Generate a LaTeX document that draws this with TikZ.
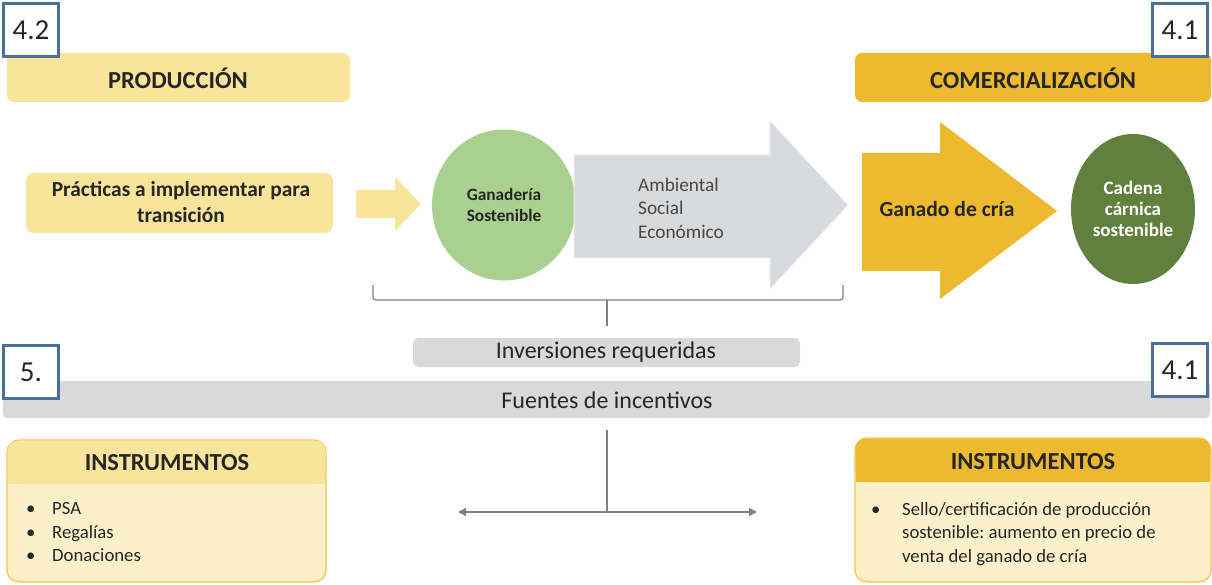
\documentclass[tikz,border=0pt]{standalone}
\usepackage{fontspec}
\setmainfont{Carlito}
\frenchspacing
\usetikzlibrary{arrows.meta,shapes.geometric}
\definecolor{lightyel}{HTML}{F8E59B}
\definecolor{paleyel}{HTML}{FCF0CA}
\definecolor{gold}{HTML}{EDB92E}
\definecolor{goldedge}{HTML}{F2C54A}
\definecolor{lgreen}{HTML}{A9D08E}
\definecolor{dgreen}{HTML}{62803D}
\definecolor{lgray}{HTML}{D9D9D9}
\definecolor{agray}{HTML}{D9DADC}
\definecolor{numblue}{HTML}{4A6F9A}
\definecolor{txt}{HTML}{262626}
\definecolor{linegray}{HTML}{808080}
\tikzset{
  numbox/.style={draw=numblue, line width=2.2pt, fill=white, minimum width=55pt, minimum height=53pt, inner sep=0pt, font=\fontsize{29}{31}\selectfont, text=txt},
  hdr/.style={font=\bfseries\fontsize{24.5}{28}\selectfont, text=txt},
  bul/.style={font=\fontsize{18.7}{23.5}\selectfont, text=txt, anchor=west, align=left, inner sep=0pt},
  conn/.style={draw=linegray, line width=1.3pt},
  circ/.style={ellipse, inner sep=0pt, align=center}
}
\begin{document}
\begin{tikzpicture}[x=1pt,y=-1pt]
\useasboundingbox (0,0) rectangle (1212,585);
% top bands
\fill[lightyel, rounded corners=7pt] (7,53) rectangle (350,102);
\node[hdr] (prod) at (178,78) {PRODUCCIÓN};
\fill[gold, rounded corners=7pt] (855,53) rectangle (1211,102);
\node[hdr] (comer) at (1033,78) {COMERCIALIZACIÓN};
\node[numbox] (n42) at (31,30) {4.2};
\node[numbox] (n41a) at (1180,30) {4.1};
% practicas
\fill[lightyel, rounded corners=8pt] (26,173) rectangle (333,233);
\node[font=\bfseries\fontsize{21.4}{26}\selectfont, text=txt, align=center] (prac) at (181,202) {Prácticas a implementar para\\transición};
% small arrow
\fill[lightyel] (356,190) -- (395,190) -- (395,177) -- (421,204) -- (395,231) -- (395,218) -- (356,218) -- cycle;
% green circle
\node[circ, fill=lgreen, minimum width=144pt, minimum height=151pt, font=\bfseries\fontsize{17.3}{21}\selectfont, text=txt] (gan) at (504,205) {Ganadería\\Sostenible};
% gray arrow
\fill[agray, draw=white!80!blue!30, line width=0.6pt] (574,155) -- (770,155) -- (770,121) -- (848,205) -- (770,289) -- (770,258) -- (574,258) -- cycle;
\node[font=\fontsize{19.3}{23.5}\selectfont, text=txt!85, align=left, anchor=west, inner sep=0pt] (amb) at (638,208) {Ambiental\\Social\\Económico};
% gold arrow
\fill[gold] (862,153) -- (940,153) -- (940,122) -- (1057,211) -- (940,299) -- (940,271) -- (862,271) -- cycle;
\node[font=\bfseries\fontsize{21.6}{24}\selectfont, text=txt] (cria) at (947,209) {Ganado de cría};
% dark green circle
\node[circ, fill=dgreen, minimum width=124pt, minimum height=150pt, font=\bfseries\fontsize{19}{21}\selectfont, text=white] (cadena) at (1133,209) {Cadena\\cárnica\\sostenible};
% brace
\coordinate (bl) at (373,285);
\coordinate (br) at (843,285);
\coordinate (bm) at (607,300);
\coordinate (bs) at (607,326);
\draw[conn, rounded corners=3pt] (bl) |- (bm) -| (br);
\draw[conn] (bm) -- (bs);
% inversiones
\fill[lgray, rounded corners=5pt] (413,338) rectangle (800,367);
\node[font=\fontsize{24}{26}\selectfont, text=txt] (inv) at (606,352) {Inversiones requeridas};
% fuentes
\fill[lgray, rounded corners=4pt] (3,381) rectangle (1210,418);
\node[font=\fontsize{24}{26}\selectfont, text=txt] (fue) at (607,400) {Fuentes de incentivos};
\node[numbox] (n5) at (31,372) {5.};
\node[numbox] (n41b) at (1180,370) {4.1};
% bottom connectors
\coordinate (vt) at (607,430);
\coordinate (vj) at (607,512);
\coordinate (al) at (458,512);
\coordinate (ar) at (757,512);
\draw[conn] (vt) -- (vj);
\draw[conn, -{Triangle[length=8pt,width=8pt]}] (vj) -- (al);
\draw[conn, -{Triangle[length=8pt,width=8pt]}] (vj) -- (ar);
% left instrumentos
\filldraw[fill=paleyel, draw=goldedge, line width=1.2pt, rounded corners=12pt] (7,440) rectangle (326,582);
\fill[lightyel, rounded corners=10pt] (7.6,440.6) rectangle (325.4,484);
\fill[lightyel] (7.6,470) rectangle (325.4,484);
\node[hdr] (insL) at (167,463) {INSTRUMENTOS};
\node[bul] (bL) at (26,532) {\makebox[26pt][l]{•}PSA\\\makebox[26pt][l]{•}Regalías\\\makebox[26pt][l]{•}Donaciones};
% right instrumentos
\filldraw[fill=paleyel, draw=goldedge, line width=1.2pt, rounded corners=12pt] (855,438) rectangle (1211,582);
\fill[gold, rounded corners=10pt] (855.6,438.6) rectangle (1210.4,482);
\fill[gold] (855.6,470) rectangle (1210.4,482);
\node[hdr] (insR) at (1033,462) {INSTRUMENTOS};
\node[bul] (bR) at (871,534) {\makebox[31pt][l]{•}Sello/certificación de producción\\\hspace*{31pt}sostenible: aumento en precio de\\\hspace*{31pt}venta del ganado de cría};
\end{tikzpicture}
\end{document}
